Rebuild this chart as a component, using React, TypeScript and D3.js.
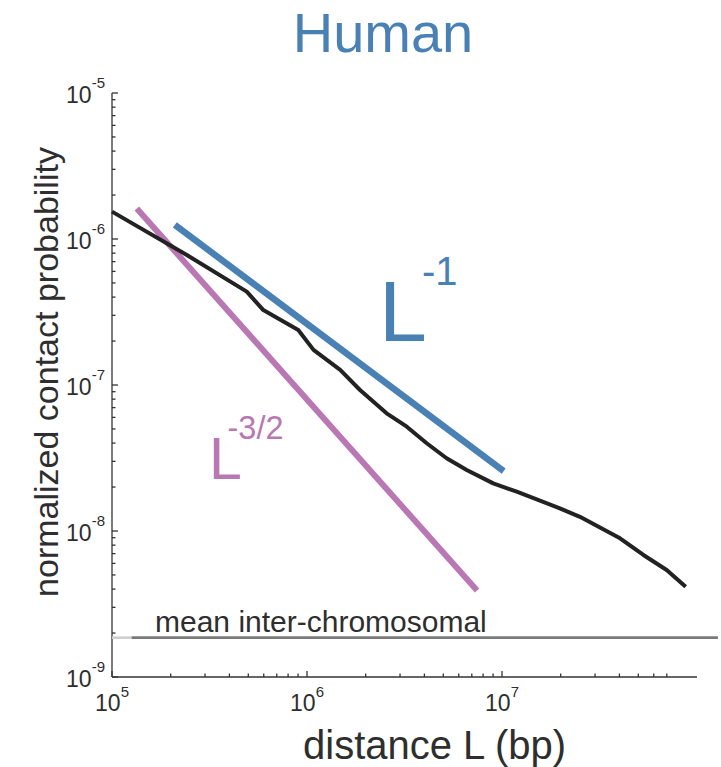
import React from 'react';
import * as d3 from 'd3';

// ---- data ----
const distanceBp = [1e5, 2.42e5, 4.91e5, 5.97e5, 9.02e5, 1.08e6, 1.48e6, 1.87e6, 2.56e6, 3.25e6, 4.11e6, 5.2e6, 6.59e6, 9.02e6, 1.19e7, 1.98e7, 2.51e7, 4.03e7, 5.31e7, 6.99e7, 8.75e7];
const contactProb = [1.54e-6, 7.77e-7, 4.36e-7, 3.26e-7, 2.38e-7, 1.74e-7, 1.27e-7, 9.24e-8, 6.4e-8, 5.18e-8, 3.99e-8, 3.15e-8, 2.62e-8, 2.12e-8, 1.86e-8, 1.43e-8, 1.25e-8, 8.91e-9, 6.85e-9, 5.41e-9, 4.15e-9];

const slopeOneX = [2.1e5, 1.02e7];
const slopeOneY = [1.25e-6, 2.57e-8];
const slopeThreeHalfX = [1.34e5, 7.45e6];
const slopeThreeHalfY = [1.62e-6, 3.91e-9];

const interChromMean = 1.86e-9;
const interChromX = [1e5, 1.26e5, 1.28e8];

const xMajorTicks = [1e5, 1e6, 1e7];
const xMajorExp = ['5', '6', '7'];
const yMajorTicks = [1e-5, 1e-6, 1e-7, 1e-8, 1e-9];
const yMajorExp = ['-5', '-6', '-7', '-8', '-9'];
const xMinorMax = 7e7;

const FONT = '"Liberation Sans", Arial, Helvetica, sans-serif';
const BLUE = '#4a81b4';
const PINK = '#b978b3';
const TEXT = '#2e2e2e';

export default function App() {
  const x = d3.scaleLog().domain([1e5, 1e8]).range([112, 697]);
  const y = d3.scaleLog().domain([1e-9, 1e-5]).range([677, 93]);

  const line = d3
    .line<[number, number]>()
    .x((d) => x(d[0]))
    .y((d) => y(d[1]));

  const curve = line(distanceBp.map((d, i) => [d, contactProb[i]] as [number, number]));
  const blue = line(slopeOneX.map((d, i) => [d, slopeOneY[i]] as [number, number]));
  const pink = line(slopeThreeHalfX.map((d, i) => [d, slopeThreeHalfY[i]] as [number, number]));

  const xMinor = x.ticks().filter((t) => t <= xMinorMax && !xMajorTicks.some((m) => Math.abs(m - t) / m < 1e-6));
  const yMinor = y.ticks().filter((t) => !yMajorTicks.some((m) => Math.abs(m - t) / m < 1e-6));

  const [x0, x1] = x.range();
  const [yb, yt] = y.range();

  return (
    <svg
      width={721}
      height={767}
      style={{ position: 'absolute', left: 0, top: 0, background: '#fff' }}
      fontFamily={FONT}
    >
      <rect x={0} y={0} width={721} height={767} fill="#fff" />
      {/* title */}
      <text x={383} y={52} textAnchor="middle" fontSize={56} fill={BLUE}>
        Human
      </text>

      {/* axes */}
      <g stroke="#333" strokeWidth={1.3} fill="none">
        <line x1={x0} y1={yt} x2={x0} y2={yb} />
        <line x1={x0} y1={yb} x2={x1} y2={yb} />
        {yMajorTicks.map((t) => (
          <line key={'ym' + t} x1={x0} x2={x0 + 6} y1={y(t)} y2={y(t)} />
        ))}
        {yMinor.map((t) => (
          <line key={'yn' + t} x1={x0} x2={x0 + 3.5} y1={y(t)} y2={y(t)} />
        ))}
        {xMajorTicks.map((t) => (
          <line key={'xm' + t} x1={x(t)} x2={x(t)} y1={yb} y2={yb - 6} />
        ))}
        {xMinor.map((t) => (
          <line key={'xn' + t} x1={x(t)} x2={x(t)} y1={yb} y2={yb - 3.5} />
        ))}
      </g>

      {/* y tick labels */}
      {yMajorTicks.map((t, i) => (
        <text key={'yl' + t} x={105} y={y(t) + 10} textAnchor="end" fontSize={23} fill={TEXT}>
          <tspan>10</tspan>
          <tspan dy={-15.5} fontSize={15}>
            {yMajorExp[i]}
          </tspan>
        </text>
      ))}
      {/* x tick labels */}
      {xMajorTicks.map((t, i) => (
        <text key={'xl' + t} x={x(t)} y={711} textAnchor="middle" fontSize={23} fill={TEXT}>
          <tspan>10</tspan>
          <tspan dy={-14} fontSize={15}>
            {xMajorExp[i]}
          </tspan>
        </text>
      ))}

      {/* axis labels */}
      <text x={303} y={759} fontSize={40} fill={TEXT}>
        distance L (bp)
      </text>
      <text
        transform={`translate(58, 372) rotate(-90)`}
        textAnchor="middle"
        fontSize={34}
        fill={TEXT}
      >
        normalized contact probability
      </text>

      {/* mean inter-chromosomal */}
      <line
        x1={x(interChromX[0])}
        x2={x(interChromX[1])}
        y1={y(interChromMean)}
        y2={y(interChromMean)}
        stroke="#cfcfcf"
        strokeWidth={2.6}
      />
      <line
        x1={x(interChromX[1])}
        x2={x(interChromX[2])}
        y1={y(interChromMean)}
        y2={y(interChromMean)}
        stroke="#7a7a7a"
        strokeWidth={2.6}
      />
      <text x={155} y={632} fontSize={30} fill={TEXT}>
        mean inter-chromosomal
      </text>

      {/* power-law guide lines */}
      <path d={pink ?? ''} stroke={PINK} strokeWidth={6} fill="none" />
      <path d={curve ?? ''} stroke="#222" strokeWidth={4} fill="none" strokeLinejoin="round" />
      <path d={blue ?? ''} stroke={BLUE} strokeWidth={6.5} fill="none" />

      {/* labels for power laws */}
      <text x={379} y={341} fontSize={86} fill={BLUE}>
        <tspan>L</tspan>
        <tspan x={422} y={285} fontSize={40}>
          -1
        </tspan>
      </text>
      <text x={209} y={479} fontSize={59} fill={PINK}>
        <tspan>L</tspan>
        <tspan x={227.5} y={439} fontSize={32.5}>
          -3/2
        </tspan>
      </text>
    </svg>
  );
}
